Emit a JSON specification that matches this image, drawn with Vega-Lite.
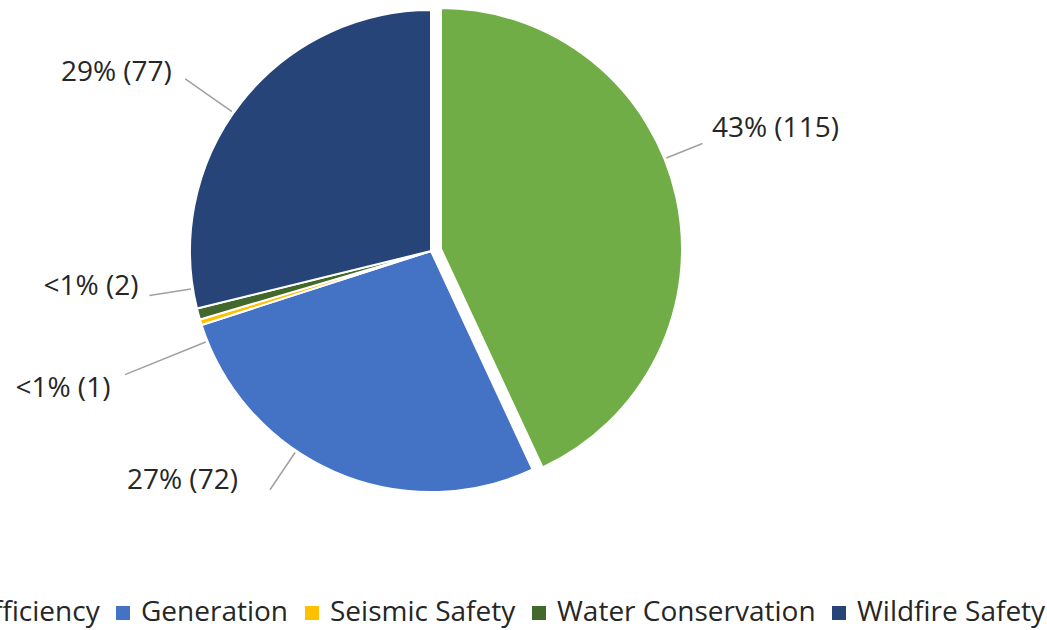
{
  "$schema": "https://vega.github.io/schema/vega-lite/v6.json",
  "width": 862,
  "height": 502,
  "autosize": {"type": "none"},
  "padding": {"left": 0, "top": 0, "right": 185, "bottom": 128},
  "background": "white",
  "config": {"view": {"stroke": null}, "font": "Open Sans"},
  "data": {
    "values": [
      {"category": "Energy Efficiency", "value": 115, "label": "43% (115)"},
      {"category": "Generation", "value": 72, "label": "27% (72)"},
      {"category": "Seismic Safety", "value": 1, "label": "<1% (1)"},
      {"category": "Water Conservation", "value": 2, "label": "<1% (2)"},
      {"category": "Wildfire Safety", "value": 77, "label": "29% (77)"}
    ]
  },
  "layer": [
    {
      "mark": {"type": "arc", "radius": 241, "stroke": "white", "strokeWidth": 2},
      "encoding": {
        "theta": {"field": "value", "type": "quantitative", "stack": true},
        "order": {"field": "category", "type": "ordinal"},
        "color": {
          "field": "category", "type": "nominal",
          "scale": {
            "domain": ["Energy Efficiency", "Generation", "Seismic Safety", "Water Conservation", "Wildfire Safety"],
            "range": ["#70AD47", "#4472C4", "#FFC000", "#43682B", "#264478"]
          },
          "legend": {
            "orient": "none", "legendX": -151, "legendY": 599, "direction": "horizontal",
            "title": null, "symbolType": "square", "symbolSize": 196, "symbolStrokeWidth": 0,
            "labelFont": "Open Sans", "labelFontSize": 28, "labelColor": "#262626",
            "labelOffset": 4, "columnPadding": 9, "labelLimit": 500, "padding": 0, "rowPadding": 0
          }
        },
        "fillOpacity": {"condition": {"test": "datum.category === 'Energy Efficiency'", "value": 0}, "value": 1}
      }
    },
    {
      "mark": {"type": "arc", "radius": 241, "stroke": "white", "strokeWidth": 2, "xOffset": 10, "yOffset": -2},
      "encoding": {
        "theta": {"field": "value", "type": "quantitative", "stack": true},
        "order": {"field": "category", "type": "ordinal"},
        "color": {
          "field": "category", "type": "nominal",
          "scale": {
            "domain": ["Energy Efficiency", "Generation", "Seismic Safety", "Water Conservation", "Wildfire Safety"],
            "range": ["#70AD47", "#4472C4", "#FFC000", "#43682B", "#264478"]
          },
          "legend": {
            "orient": "none", "legendX": -151, "legendY": 599, "direction": "horizontal",
            "title": null, "symbolType": "square", "symbolSize": 196, "symbolStrokeWidth": 0,
            "labelFont": "Open Sans", "labelFontSize": 28, "labelColor": "#262626",
            "labelOffset": 4, "columnPadding": 9, "labelLimit": 500, "padding": 0, "rowPadding": 0
          }
        },
        "fillOpacity": {"condition": {"test": "datum.category === 'Energy Efficiency'", "value": 1}, "value": 0},
        "strokeOpacity": {"condition": {"test": "datum.category === 'Energy Efficiency'", "value": 1}, "value": 0}
      }
    },
    {
      "mark": {"type": "arc", "radius": 282, "radius2": 243, "padAngle": 3.1416, "thetaOffset": -0.166, "xOffset": 10, "yOffset": -2, "fill": "white", "fillOpacity": 0, "stroke": "#A0A0A0", "strokeWidth": 1.5},
      "encoding": {
        "theta": {"field": "value", "type": "quantitative", "stack": true},
        "order": {"field": "category", "type": "ordinal"},
        "detail": {"field": "category", "type": "nominal"},
        "strokeOpacity": {"condition": {"test": "datum.category === 'Energy Efficiency'", "value": 1}, "value": 0}
      }
    },
    {
      "mark": {"type": "arc", "radius": 288, "radius2": 243, "padAngle": 3.1416, "thetaOffset": 0.1815, "fill": "white", "fillOpacity": 0, "stroke": "#A0A0A0", "strokeWidth": 1.5},
      "encoding": {
        "theta": {"field": "value", "type": "quantitative", "stack": true},
        "order": {"field": "category", "type": "ordinal"},
        "detail": {"field": "category", "type": "nominal"},
        "strokeOpacity": {"condition": {"test": "datum.category === 'Generation'", "value": 1}, "value": 0}
      }
    },
    {
      "mark": {"type": "arc", "radius": 330, "radius2": 243, "padAngle": 3.1416, "thetaOffset": -0.084, "fill": "white", "fillOpacity": 0, "stroke": "#A0A0A0", "strokeWidth": 1.5},
      "encoding": {
        "theta": {"field": "value", "type": "quantitative", "stack": true},
        "order": {"field": "category", "type": "ordinal"},
        "detail": {"field": "category", "type": "nominal"},
        "strokeOpacity": {"condition": {"test": "datum.category === 'Seismic Safety'", "value": 1}, "value": 0}
      }
    },
    {
      "mark": {"type": "arc", "radius": 285, "radius2": 243, "padAngle": 3.1416, "thetaOffset": 0.108, "fill": "white", "fillOpacity": 0, "stroke": "#A0A0A0", "strokeWidth": 1.5},
      "encoding": {
        "theta": {"field": "value", "type": "quantitative", "stack": true},
        "order": {"field": "category", "type": "ordinal"},
        "detail": {"field": "category", "type": "nominal"},
        "strokeOpacity": {"condition": {"test": "datum.category === 'Water Conservation'", "value": 1}, "value": 0}
      }
    },
    {
      "mark": {"type": "arc", "radius": 300, "radius2": 243, "padAngle": 3.1416, "thetaOffset": -0.054, "fill": "white", "fillOpacity": 0, "stroke": "#A0A0A0", "strokeWidth": 1.5},
      "encoding": {
        "theta": {"field": "value", "type": "quantitative", "stack": true},
        "order": {"field": "category", "type": "ordinal"},
        "detail": {"field": "category", "type": "nominal"},
        "strokeOpacity": {"condition": {"test": "datum.category === 'Wildfire Safety'", "value": 1}, "value": 0}
      }
    },
    {
      "mark": {"type": "text", "radius": 300, "font": "Open Sans", "fontSize": 28, "fill": "#262626", "align": "left", "baseline": "middle", "dx": -12, "dy": -57},
      "encoding": {
        "theta": {"field": "value", "type": "quantitative", "stack": true},
        "order": {"field": "category", "type": "ordinal"},
        "detail": {"field": "category", "type": "nominal"},
        "text": {"condition": {"test": "datum.category === 'Energy Efficiency'", "field": "label"}, "value": ""}
      }
    },
    {
      "mark": {"type": "text", "radius": 300, "font": "Open Sans", "fontSize": 28, "fill": "#262626", "align": "right", "baseline": "middle", "dx": -73, "dy": -45},
      "encoding": {
        "theta": {"field": "value", "type": "quantitative", "stack": true},
        "order": {"field": "category", "type": "ordinal"},
        "detail": {"field": "category", "type": "nominal"},
        "text": {"condition": {"test": "datum.category === 'Generation'", "field": "label"}, "value": ""}
      }
    },
    {
      "mark": {"type": "text", "radius": 300, "font": "Open Sans", "fontSize": 28, "fill": "#262626", "align": "right", "baseline": "middle", "dx": -34, "dy": 49},
      "encoding": {
        "theta": {"field": "value", "type": "quantitative", "stack": true},
        "order": {"field": "category", "type": "ordinal"},
        "detail": {"field": "category", "type": "nominal"},
        "text": {"condition": {"test": "datum.category === 'Seismic Safety'", "field": "label"}, "value": ""}
      }
    },
    {
      "mark": {"type": "text", "radius": 300, "font": "Open Sans", "fontSize": 28, "fill": "#262626", "align": "right", "baseline": "middle", "dx": -3, "dy": -42},
      "encoding": {
        "theta": {"field": "value", "type": "quantitative", "stack": true},
        "order": {"field": "category", "type": "ordinal"},
        "detail": {"field": "category", "type": "nominal"},
        "text": {"condition": {"test": "datum.category === 'Water Conservation'", "field": "label"}, "value": ""}
      }
    },
    {
      "mark": {"type": "text", "radius": 300, "font": "Open Sans", "fontSize": 28, "fill": "#262626", "align": "right", "baseline": "middle", "dx": -23, "dy": 7},
      "encoding": {
        "theta": {"field": "value", "type": "quantitative", "stack": true},
        "order": {"field": "category", "type": "ordinal"},
        "detail": {"field": "category", "type": "nominal"},
        "text": {"condition": {"test": "datum.category === 'Wildfire Safety'", "field": "label"}, "value": ""}
      }
    }
  ]
}
